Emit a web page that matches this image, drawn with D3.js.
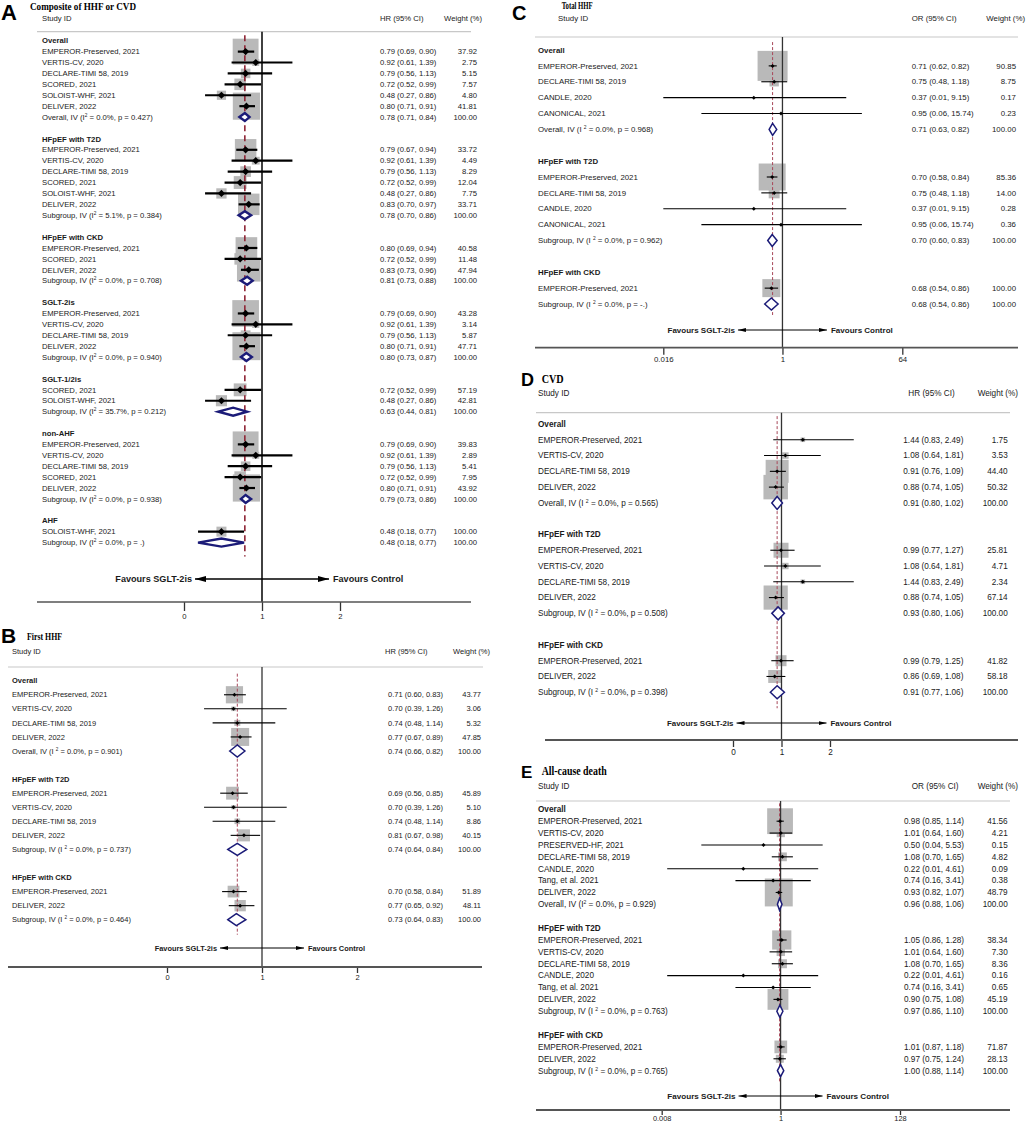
<!DOCTYPE html>
<html>
<head>
<meta charset="utf-8">
<script src="https://cdn.jsdelivr.net/npm/d3@7"></script>
<style>body{margin:0;background:#fff}</style>
</head>
<body>
<svg id="chart"></svg>
<script>
// ---- A: Composite of HHF or CVD ----
const aLabels = [
  "Overall",
  "EMPEROR-Preserved, 2021","VERTIS-CV, 2020","DECLARE-TIMI 58, 2019","SCORED, 2021","SOLOIST-WHF, 2021","DELIVER, 2022",
  "Overall, IV (I^2 = 0.0%, p = 0.427)", "",
  "HFpEF with T2D",
  "EMPEROR-Preserved, 2021","VERTIS-CV, 2020","DECLARE-TIMI 58, 2019","SCORED, 2021","SOLOIST-WHF, 2021","DELIVER, 2022",
  "Subgroup, IV (I^2 = 5.1%, p = 0.384)", "",
  "HFpEF with CKD",
  "EMPEROR-Preserved, 2021","SCORED, 2021","DELIVER, 2022",
  "Subgroup, IV (I^2 = 0.0%, p = 0.708)", "",
  "SGLT-2is",
  "EMPEROR-Preserved, 2021","VERTIS-CV, 2020","DECLARE-TIMI 58, 2019","DELIVER, 2022",
  "Subgroup, IV (I^2 = 0.0%, p = 0.940)", "",
  "SGLT-1/2is",
  "SCORED, 2021","SOLOIST-WHF, 2021",
  "Subgroup, IV (I^2 = 35.7%, p = 0.212)", "",
  "non-AHF",
  "EMPEROR-Preserved, 2021","VERTIS-CV, 2020","DECLARE-TIMI 58, 2019","SCORED, 2021","DELIVER, 2022",
  "Subgroup, IV (I^2 = 0.0%, p = 0.938)", "",
  "AHF",
  "SOLOIST-WHF, 2021",
  "Subgroup, IV (I^2 = 0.0%, p = .)"
];
const aEst = [null, .79,.92,.79,.72,.48,.80, .78, null, null, .79,.92,.79,.72,.48,.83, .78, null, null, .80,.72,.83, .81, null,
  null, .79,.92,.79,.80, .80, null, null, .72,.48, .63, null, null, .79,.92,.79,.72,.80, .79, null, null, .48, .48];
const aLow = [null, .69,.61,.56,.52,.27,.71, .71, null, null, .67,.61,.56,.52,.27,.70, .70, null, null, .69,.52,.73, .73, null,
  null, .69,.61,.56,.71, .73, null, null, .52,.27, .44, null, null, .69,.61,.56,.52,.71, .73, null, null, .18, .18];
const aHigh = [null, .90,1.39,1.13,.99,.86,.91, .84, null, null, .94,1.39,1.13,.99,.86,.97, .86, null, null, .94,.99,.96, .88, null,
  null, .90,1.39,1.13,.91, .87, null, null, .99,.86, .81, null, null, .90,1.39,1.13,.99,.91, .86, null, null, .77, .77];
const aWeight = [null, 37.92,2.75,5.15,7.57,4.80,41.81, 100, null, null, 33.72,4.49,8.29,12.04,7.75,33.71, 100, null, null, 40.58,11.48,47.94, 100, null,
  null, 43.28,3.14,5.87,47.71, 100, null, null, 57.19,42.81, 100, null, null, 39.83,2.89,5.41,7.95,43.92, 100, null, null, 100, 100];
const aTicks = [0, 1, 2];

// ---- B: First HHF ----
const bLabels = [
  "Overall",
  "EMPEROR-Preserved, 2021","VERTIS-CV, 2020","DECLARE-TIMI 58, 2019","DELIVER, 2022",
  "Overall, IV (I ^2 = 0.0%, p = 0.901)", "",
  "HFpEF with T2D",
  "EMPEROR-Preserved, 2021","VERTIS-CV, 2020","DECLARE-TIMI 58, 2019","DELIVER, 2022",
  "Subgroup, IV (I ^2 = 0.0%, p = 0.737)", "",
  "HFpEF with CKD",
  "EMPEROR-Preserved, 2021","DELIVER, 2022",
  "Subgroup, IV (I ^2 = 0.0%, p = 0.464)"
];
const bEst = [null, .71,.70,.74,.77, .74, null, null, .69,.70,.74,.81, .74, null, null, .70,.77, .73];
const bLow = [null, .60,.39,.48,.67, .66, null, null, .56,.39,.48,.67, .64, null, null, .58,.65, .64];
const bHigh = [null, .83,1.26,1.14,.89, .82, null, null, .85,1.26,1.14,.98, .84, null, null, .84,.92, .83];
const bWeight = [null, 43.77,3.06,5.32,47.85, 100, null, null, 45.89,5.10,8.86,40.15, 100, null, null, 51.89,48.11, 100];
const bTicks = [0, 1, 2];

// ---- C: Total HHF ----
const cLabels = [
  "Overall",
  "EMPEROR-Preserved, 2021","DECLARE-TIMI 58, 2019","CANDLE, 2020","CANONICAL, 2021",
  "Overall, IV (I ^2 = 0.0%, p = 0.968)", "",
  "HFpEF with T2D",
  "EMPEROR-Preserved, 2021","DECLARE-TIMI 58, 2019","CANDLE, 2020","CANONICAL, 2021",
  "Subgroup, IV (I ^2 = 0.0%, p = 0.962)", "",
  "HFpEF with CKD",
  "EMPEROR-Preserved, 2021",
  "Subgroup, IV (I ^2 = 0.0%, p = -.)"
];
const cEst = [null, .71,.75,.37,.95, .71, null, null, .70,.75,.37,.95, .70, null, null, .68, .68];
const cLow = [null, .62,.48,.01,.06, .63, null, null, .58,.48,.01,.06, .60, null, null, .54, .54];
const cHigh = [null, .82,1.18,9.15,15.74, .82, null, null, .84,1.18,9.15,15.74, .83, null, null, .86, .86];
const cWeight = [null, 90.85,8.75,0.17,0.23, 100, null, null, 85.36,14.00,0.28,0.36, 100, null, null, 100, 100];
const cTicks = [0.016, 1, 64];

// ---- D: CVD ----
const dLabels = [
  "Overall",
  "EMPEROR-Preserved, 2021","VERTIS-CV, 2020","DECLARE-TIMI 58, 2019","DELIVER, 2022",
  "Overall, IV (I ^2 = 0.0%, p = 0.565)", "",
  "HFpEF with T2D",
  "EMPEROR-Preserved, 2021","VERTIS-CV, 2020","DECLARE-TIMI 58, 2019","DELIVER, 2022",
  "Subgroup, IV (I ^2 = 0.0%, p = 0.508)", "",
  "HFpEF with CKD",
  "EMPEROR-Preserved, 2021","DELIVER, 2022",
  "Subgroup, IV (I ^2 = 0.0%, p = 0.398)"
];
const dEst = [null, 1.44,1.08,.91,.88, .91, null, null, .99,1.08,1.44,.88, .93, null, null, .99,.86, .91];
const dLow = [null, .83,.64,.76,.74, .80, null, null, .77,.64,.83,.74, .80, null, null, .79,.69, .77];
const dHigh = [null, 2.49,1.81,1.09,1.05, 1.02, null, null, 1.27,1.81,2.49,1.05, 1.06, null, null, 1.25,1.08, 1.06];
const dWeight = [null, 1.75,3.53,44.40,50.32, 100, null, null, 25.81,4.71,2.34,67.14, 100, null, null, 41.82,58.18, 100];
const dTicks = [0, 1, 2];

// ---- E: All-cause death ----
const eLabels = [
  "Overall",
  "EMPEROR-Preserved, 2021","VERTIS-CV, 2020","PRESERVED-HF, 2021","DECLARE-TIMI 58, 2019","CANDLE, 2020","Tang, et al. 2021","DELIVER, 2022",
  "Overall, IV (I^2 = 0.0%, p = 0.929)", "",
  "HFpEF with T2D",
  "EMPEROR-Preserved, 2021","VERTIS-CV, 2020","DECLARE-TIMI 58, 2019","CANDLE, 2020","Tang, et al. 2021","DELIVER, 2022",
  "Subgroup, IV (I ^2 = 0.0%, p = 0.763)", "",
  "HFpEF with CKD",
  "EMPEROR-Preserved, 2021","DELIVER, 2022",
  "Subgroup, IV (I ^2 = 0.0%, p = 0.765)"
];
const eEst = [null, .98,1.01,.50,1.08,.22,.74,.93, .96, null, null, 1.05,1.01,1.08,.22,.74,.90, .97, null, null, 1.01,.97, 1.00];
const eLow = [null, .85,.64,.04,.70,.01,.16,.82, .88, null, null, .86,.64,.70,.01,.16,.75, .86, null, null, .87,.75, .88];
const eHigh = [null, 1.14,1.60,5.53,1.65,4.61,3.41,1.07, 1.06, null, null, 1.28,1.60,1.65,4.61,3.41,1.08, 1.10, null, null, 1.18,1.24, 1.14];
const eWeight = [null, 41.56,4.21,0.15,4.82,0.09,0.38,48.79, 100, null, null, 38.34,7.30,8.36,0.16,0.65,45.19, 100, null, null, 71.87,28.13, 100];
const eTicks = [0.008, 1, 128];

const fontSans = "'Liberation Sans', Arial, Helvetica, sans-serif";
const fontSerif = "'Liberation Serif', 'Times New Roman', serif";
const fmt2 = d3.format(".2f");

const svg = d3.select("#chart").attr("width", 1026).attr("height", 1124);
svg.append("rect").attr("width", 1026).attr("height", 1124).attr("fill", "#fff");
const defs = svg.append("defs");

function arrowMarker(id, w, h) {
  defs.append("marker").attr("id", id)
    .attr("viewBox", `0 0 ${w} ${h}`).attr("refX", w).attr("refY", h / 2)
    .attr("markerWidth", w).attr("markerHeight", h)
    .attr("markerUnits", "userSpaceOnUse").attr("orient", "auto-start-reverse")
    .append("path").attr("d", `M0,0L${w},${h / 2}L0,${h}Z`).attr("fill", "#000");
}
arrowMarker("arrBig", 11, 6);
arrowMarker("arrSmall", 8, 4);

function labelText(sel, s) {
  const parts = s.split("^2");
  sel.append("tspan").text(parts[0]);
  if (parts.length > 1) {
    sel.append("tspan").attr("font-size", "0.62em").attr("dy", -3).text("2");
    sel.append("tspan").attr("dy", 3).text(parts[1]);
  }
}

function drawPanel(p) {
  const g = svg.append("g").attr("font-family", fontSans).attr("fill", "#1a1a1a");
  let grp = -1;
  const rows = p.labels.map((label, i) => {
    const est = p.est[i];
    let kind = "study";
    if (label === "") kind = "blank";
    else if (est == null) { kind = "head"; grp++; }
    else if (/^(Overall|Subgroup), IV/.test(label)) kind = "sum";
    return {label, est, lo: p.lo[i], hi: p.hi[i], wt: p.wt[i], kind, grp, i};
  });
  const n = rows.length;
  const yRow = d3.scaleLinear().domain([0, n - 1]).range([p.row0, p.row0 + (n - 1) * p.step]);
  const x = p.x;
  const studies = rows.filter(r => r.kind === "study");
  const sums = rows.filter(r => r.kind === "sum");
  const pooled = sums[0].est;
  const side = d => p.boxK[d.grp] * Math.sqrt(d.wt);
  const fs = p.fs;

  // weight boxes
  g.selectAll("rect.box").data(studies).join("rect").attr("class", "box")
    .attr("x", d => x(d.est) - side(d) / 2)
    .attr("y", d => yRow(d.i) - side(d) / 2)
    .attr("width", side).attr("height", side)
    .attr("fill", "#b9b9b9");

  // header separator
  g.append("line").attr("x1", p.sepX[0]).attr("x2", p.sepX[1])
    .attr("y1", p.sepY).attr("y2", p.sepY)
    .attr("stroke", "#c8c8c8").attr("stroke-width", 1.2);

  // no-effect line
  g.append("line").attr("x1", x(1)).attr("x2", x(1))
    .attr("y1", p.sepY).attr("y2", p.axisY)
    .attr("stroke", p.big ? "#111" : "#333").attr("stroke-width", p.big ? 1.6 : 1.3);

  // pooled estimate line
  g.append("line").attr("x1", x(pooled)).attr("x2", x(pooled))
    .attr("y1", yRow(0) - p.step * 0.5).attr("y2", yRow(n - 1) + p.dashTail)
    .attr("stroke", p.big ? "#8e2434" : "#a8485a")
    .attr("stroke-width", p.big ? 1.6 : 1)
    .attr("stroke-dasharray", p.big ? "6,4" : "3,2");

  // CIs
  g.selectAll("line.ci").data(studies).join("line").attr("class", "ci")
    .attr("x1", d => x(d.lo)).attr("x2", d => x(d.hi))
    .attr("y1", d => yRow(d.i)).attr("y2", d => yRow(d.i))
    .attr("stroke", "#000").attr("stroke-width", p.big ? 2.2 : 1.1);

  // point estimates
  const ms = p.big ? 3.6 : 2;
  g.selectAll("path.pt").data(studies).join("path").attr("class", "pt")
    .attr("d", d => {
      const cx = x(d.est), cy = yRow(d.i);
      return `M${cx - ms},${cy}L${cx},${cy - ms}L${cx + ms},${cy}L${cx},${cy + ms}Z`;
    })
    .attr("fill", "#000");

  // summary diamonds
  const dh = p.diamondH / 2;
  g.selectAll("path.dia").data(sums).join("path").attr("class", "dia")
    .attr("d", d => {
      const cy = yRow(d.i);
      return `M${x(d.lo)},${cy}L${x(d.est)},${cy - dh}L${x(d.hi)},${cy}L${x(d.est)},${cy + dh}Z`;
    })
    .attr("fill", "#fff").attr("stroke", "#1b1b78")
    .attr("stroke-width", p.big ? 2.4 : 1.5);

  // row labels
  const textRows = rows.filter(r => r.kind !== "blank");
  g.selectAll("text.lab").data(textRows).join("text").attr("class", "lab")
    .attr("x", p.labelX).attr("y", d => yRow(d.i) + fs * 0.35)
    .attr("font-size", fs)
    .attr("font-weight", d => d.kind === "head" ? "bold" : "normal")
    .each(function (d) { labelText(d3.select(this), d.label); });

  const valRows = rows.filter(r => r.kind === "study" || r.kind === "sum");
  g.selectAll("text.ci").data(valRows).join("text").attr("class", "ci")
    .attr("x", p.ciX).attr("y", d => yRow(d.i) + fs * 0.35)
    .attr("font-size", fs)
    .text(d => `${fmt2(d.est)} (${fmt2(d.lo)}, ${fmt2(d.hi)})`);
  g.selectAll("text.wt").data(valRows).join("text").attr("class", "wt")
    .attr("x", p.wtX).attr("y", d => yRow(d.i) + fs * 0.35)
    .attr("font-size", fs).attr("text-anchor", "end")
    .text(d => fmt2(d.wt));

  // column headers
  const hy = p.headY + fs * 0.35;
  g.append("text").attr("x", p.studyX).attr("y", hy).attr("font-size", fs).text("Study ID");
  g.append("text").attr("x", p.ciHeadX).attr("y", hy).attr("font-size", fs).text(p.effect + " (95% CI)");
  g.append("text").attr("x", p.wtHeadX).attr("y", hy).attr("font-size", fs)
    .attr("text-anchor", "end").text("Weight (%)");

  // axis
  const axis = d3.axisBottom(x).tickValues(p.ticks).tickFormat(d => String(d))
    .tickSize(p.tickLen).tickPadding(p.tickPad);
  const ag = g.append("g").attr("transform", `translate(0,${p.axisY})`).call(axis);
  ag.select(".domain").remove();
  ag.selectAll(".tick line").attr("stroke", "#333").attr("stroke-width", 1.3);
  ag.selectAll(".tick text").attr("font-size", p.tickFs).attr("font-family", fontSans).attr("fill", "#1a1a1a");
  g.append("line").attr("x1", p.axisX[0]).attr("x2", p.axisX[1])
    .attr("y1", p.axisY).attr("y2", p.axisY)
    .attr("stroke", "#555").attr("stroke-width", p.big ? 1.6 : 1.8);

  // favours arrow
  const x1 = x(1);
  g.append("line").attr("x1", x1 - p.arrowHalf).attr("x2", x1 + p.arrowHalf)
    .attr("y1", p.favY).attr("y2", p.favY)
    .attr("stroke", "#000").attr("stroke-width", p.big ? 1.3 : 1)
    .attr("marker-start", `url(#${p.big ? "arrBig" : "arrSmall"})`)
    .attr("marker-end", `url(#${p.big ? "arrBig" : "arrSmall"})`);
  g.append("text").attr("x", x1 - p.arrowHalf - 3).attr("y", p.favY + p.favFs * 0.35)
    .attr("font-size", p.favFs).attr("font-weight", "bold").attr("text-anchor", "end")
    .text("Favours SGLT-2is");
  g.append("text").attr("x", x1 + p.arrowHalf + 4).attr("y", p.favY + p.favFs * 0.35)
    .attr("font-size", p.favFs).attr("font-weight", "bold")
    .text("Favours Control");

  // panel letter + title
  svg.append("text").attr("x", p.letterX).attr("y", p.letterY)
    .attr("font-family", fontSans).attr("font-weight", "bold")
    .attr("font-size", p.letterFs).attr("fill", "#000").text(p.letter);
  svg.append("text").attr("x", p.titleX).attr("y", p.titleY)
    .attr("font-family", fontSerif).attr("font-weight", "bold")
    .attr("font-size", p.titleFs).attr("fill", "#000")
    .attr("textLength", p.titleLen).attr("lengthAdjust", "spacingAndGlyphs")
    .text(p.title);
}

drawPanel({
  labels: aLabels, est: aEst, lo: aLow, hi: aHigh, wt: aWeight, ticks: aTicks,
  x: d3.scaleLinear().domain([0, 2]).range([184, 340]),
  big: true, fs: 7.7, effect: "HR",
  row0: 40.7, step: 10.91, dashTail: 14,
  boxK: [4.2, 3.7, 3.4, 4.05, 1.7, 4.1, 1.0], diamondH: 8,
  labelX: 42, ciX: 380, wtX: 477, studyX: 42, ciHeadX: 380, wtHeadX: 482, headY: 18.3,
  sepY: 31.7, sepX: [37, 471], axisY: 602, axisX: [37, 471], tickLen: 9, tickPad: 3, tickFs: 7.7,
  favY: 579, favFs: 9.1, arrowHalf: 67,
  letter: "A", letterX: 1, letterY: 20, letterFs: 22,
  title: "Composite of HHF or CVD", titleX: 30, titleY: 10, titleFs: 10.5, titleLen: 106
});

drawPanel({
  labels: bLabels, est: bEst, lo: bLow, hi: bHigh, wt: bWeight, ticks: bTicks,
  x: d3.scaleLinear().domain([0, 2]).range([167, 357]),
  big: false, fs: 7.5, effect: "HR",
  row0: 680.7, step: 14.06, dashTail: 15,
  boxK: [2.6, 1.9, 1.63], diamondH: 12,
  labelX: 12, ciX: 388, wtX: 481, studyX: 12, ciHeadX: 385, wtHeadX: 490, headY: 651,
  sepY: 667, sepX: [8, 483], axisY: 967, axisX: [8, 482], tickLen: 6, tickPad: 2, tickFs: 7.5,
  favY: 948, favFs: 7.4, arrowHalf: 42,
  letter: "B", letterX: 1, letterY: 643, letterFs: 21,
  title: "First HHF", titleX: 27, titleY: 640, titleFs: 10, titleLen: 35
});

drawPanel({
  labels: cLabels, est: cEst, lo: cLow, hi: cHigh, wt: cWeight, ticks: cTicks,
  x: d3.scaleLog().base(2).domain([0.016, 64]).range([663.3, 902.3]).clamp(true),
  big: false, fs: 7.85, effect: "OR",
  row0: 50, step: 15.875, dashTail: 11,
  boxK: [3.15, 2.92, 1.8], diamondH: 12,
  labelX: 538, ciX: 911.7, wtX: 1016, studyX: 558, ciHeadX: 911.7, wtHeadX: 1025, headY: 18.3,
  sepY: 37, sepX: [535, 1018], axisY: 347.7, axisX: [535, 1018], tickLen: 7, tickPad: 2, tickFs: 7.85,
  favY: 330, favFs: 8, arrowHalf: 44.5,
  letter: "C", letterX: 512, letterY: 20, letterFs: 20,
  title: "Total HHF", titleX: 561.7, titleY: 9, titleFs: 10, titleLen: 31
});

drawPanel({
  labels: dLabels, est: dEst, lo: dLow, hi: dHigh, wt: dWeight, ticks: dTicks,
  x: d3.scaleLinear().domain([0, 2]).range([733, 830]),
  big: false, fs: 8.2, effect: "HR",
  row0: 424, step: 15.78, dashTail: 16,
  boxK: [3.45, 2.95, 1.7], diamondH: 13,
  labelX: 538, ciX: 903.3, wtX: 1007.7, studyX: 538, ciHeadX: 908.3, wtHeadX: 1018, headY: 392.7,
  sepY: 412.7, sepX: [536, 1010], axisY: 740, axisX: [545, 1018], tickLen: 7, tickPad: 2, tickFs: 8.2,
  favY: 723, favFs: 7.9, arrowHalf: 45,
  letter: "D", letterX: 521, letterY: 386, letterFs: 18,
  title: "CVD", titleX: 541.7, titleY: 383, titleFs: 11.5, titleLen: 22
});

drawPanel({
  labels: eLabels, est: eEst, lo: eLow, hi: eHigh, wt: eWeight, ticks: eTicks,
  x: d3.scaleLog().base(2).domain([0.008, 128]).range([661.7, 900]).clamp(true),
  big: false, fs: 8.2, effect: "OR",
  row0: 809.3, step: 11.88, dashTail: 12,
  boxK: [4.0, 3.1, 1.5], diamondH: 12,
  labelX: 538, ciX: 904, wtX: 1007.7, studyX: 538, ciHeadX: 911.7, wtHeadX: 1018, headY: 785.7,
  sepY: 801, sepX: [536, 1010], axisY: 1110, axisX: [536, 1010], tickLen: 5, tickPad: 1, tickFs: 7.4,
  favY: 1096, favFs: 8.1, arrowHalf: 42,
  letter: "E", letterX: 521, letterY: 778, letterFs: 17,
  title: "All-cause death", titleX: 541.7, titleY: 775, titleFs: 12, titleLen: 65
});
</script>
</body>
</html>
